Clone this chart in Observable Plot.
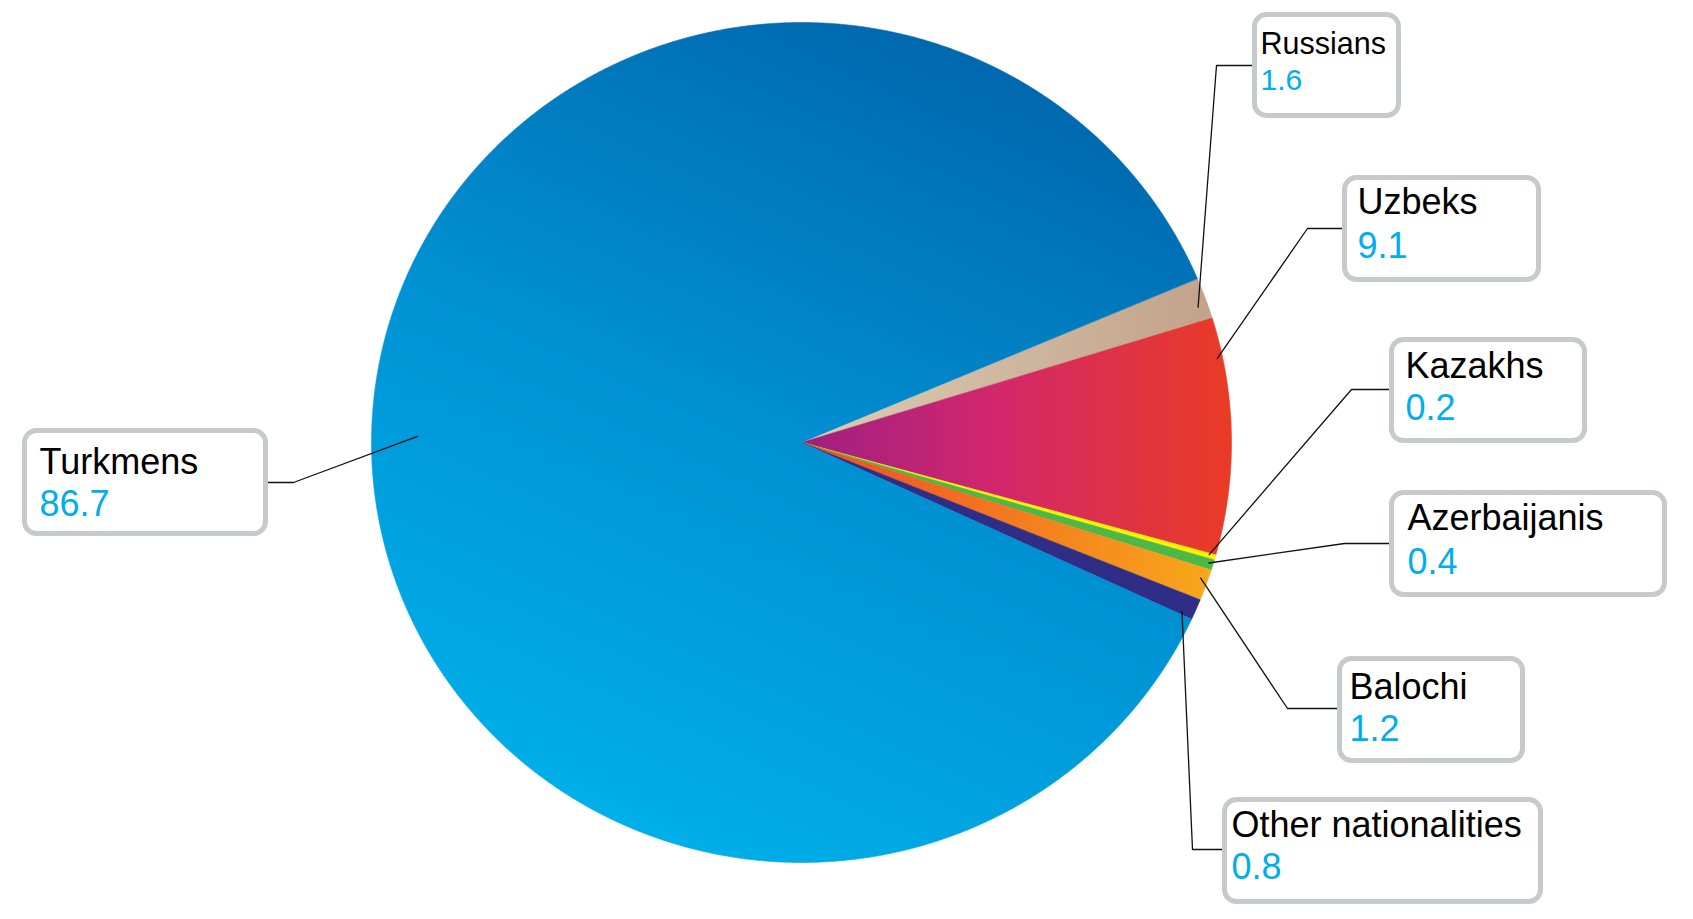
<!DOCTYPE html>
<html>
<head>
<meta charset="utf-8">
<script src="https://cdn.jsdelivr.net/npm/d3@7"></script>
<script src="https://cdn.jsdelivr.net/npm/@observablehq/plot@0.6"></script>
<style>
  html, body { margin: 0; padding: 0; background: #fff; }
  #chart svg { display: block; }
</style>
</head>
<body>
<div id="chart"></div>
<script>
// ---------- DATA ----------
const nationalities = ["Turkmens", "Russians", "Uzbeks", "Kazakhs", "Azerbaijanis", "Balochi", "Other nationalities"];
const shares = [86.7, 1.6, 9.1, 0.2, 0.4, 1.2, 0.8];
const valueLabels = ["86.7", "1.6", "9.1", "0.2", "0.4", "1.2", "0.8"];
// clockwise order of the slices starting from the upper right
const sliceOrder = ["Russians", "Uzbeks", "Kazakhs", "Azerbaijanis", "Balochi", "Other nationalities", "Turkmens"];

// ---------- STYLE / LAYOUT ----------
const W = 1693, H = 919;
const cx = 801, cy = 442, rx = 430, ry = 420, startDeg = 67;
const sliceFills = ["url(#gTurk)", "url(#gRus)", "url(#gUzb)", "#fff200", "#4cb848", "url(#gBal)", "#2f2d86"];
// label boxes (outer left, top, width, height)
const boxLeft = [22, 1252, 1342, 1389, 1389, 1337, 1222];
const boxTop = [428, 12, 175, 337, 490, 656, 797];
const boxWidth = [246, 149, 199, 198, 278, 188, 321];
const boxHeight = [108, 106, 107, 106, 107, 107, 107];
const textPad = [17, 8, 15, 16, 18, 12, 9];
const nameBase = [45, 41, 38, 40, 39, 42, 39];
const valueBase = [87, 77, 82, 82, 83, 84, 81];
const leaderOff = [54, 53, 53, 52, 53, 52, 52];
const nameSize = [36, 30.5, 36, 36, 36, 36, 36];
const valueSize = [36, 30, 36, 36, 36, 36, 36];
const elbowLen = [25, 36, 35, 38, 45, 50, 30];
const anchorFrac = [0.5, 0.65, 0.17, 0.3, 0.42, 0.35, 0.85];
const anchorRad = [0.893, 0.977, 0.987, 0.985, 0.99, 0.983, 0.972];

// ---------- GEOMETRY ----------
const shareOf = Object.fromEntries(nationalities.map((n, i) => [n, shares[i]]));
const a0 = startDeg * Math.PI / 180;
const arcs = d3.pie().sort(null).value(d => d.share)
  .startAngle(a0).endAngle(a0 + 2 * Math.PI)(sliceOrder.map(name => ({name, share: shareOf[name]})));
const arcOf = Object.fromEntries(arcs.map(a => [a.data.name, a]));
const px = (a, r = 1) => cx + rx * r * Math.sin(a);
const py = (a, r = 1) => cy - ry * r * Math.cos(a);

const verts = [];
for (const a of arcs) {
  verts.push({name: a.data.name, x: cx, y: cy});
  const n = Math.max(2, Math.ceil((a.endAngle - a.startAngle) / (0.2 * Math.PI / 180)));
  for (let k = 0; k <= n; k++) {
    const t = a.startAngle + (a.endAngle - a.startAngle) * k / n;
    verts.push({name: a.data.name, x: px(t), y: py(t)});
  }
}

const labels = nationalities.map((name, i) => ({
  name, value: valueLabels[i],
  x1: boxLeft[i] + 2.5, x2: boxLeft[i] + boxWidth[i] - 2.5,
  y1: boxTop[i] + 2.5, y2: boxTop[i] + boxHeight[i] - 2.5,
  tx: boxLeft[i] + textPad[i], ny: boxTop[i] + nameBase[i], vy: boxTop[i] + valueBase[i],
  ns: nameSize[i], vs: valueSize[i]
}));

const leaders = [];
nationalities.forEach((name, i) => {
  const a = arcOf[name];
  const ang = a.startAngle + (a.endAngle - a.startAngle) * anchorFrac[i];
  const onLeft = boxLeft[i] < cx;
  const ex = onLeft ? boxLeft[i] + boxWidth[i] : boxLeft[i];
  const ey = boxTop[i] + leaderOff[i];
  const elx = onLeft ? ex + elbowLen[i] : ex - elbowLen[i];
  leaders.push({name, x: ex, y: ey}, {name, x: elx, y: ey}, {name, x: px(ang, anchorRad[i]), y: py(ang, anchorRad[i])});
});

const chart = Plot.plot({
  width: W, height: H, margin: 0,
  x: {domain: [0, W], range: [0, W], axis: null},
  y: {domain: [0, H], range: [0, H], axis: null},
  color: {type: "ordinal", domain: nationalities, range: sliceFills},
  style: {fontFamily: "'Liberation Sans', Arial, Helvetica, sans-serif", background: "#fff"},
  marks: [
    Plot.line(verts, {x: "x", y: "y", z: "name", fill: "name", stroke: "name", strokeWidth: 0.6, curve: "linear-closed"}),
    Plot.line(leaders, {x: "x", y: "y", z: "name", stroke: "#111", strokeWidth: 1.3}),
    Plot.rect(labels, {x1: "x1", x2: "x2", y1: "y1", y2: "y2", rx: 12, fill: "white", stroke: "#c8c9cb", strokeWidth: 5}),
    Plot.text(labels, {x: "tx", y: "ny", text: "name", fontSize: "ns", textAnchor: "start", lineAnchor: "bottom", fill: "#000"}),
    Plot.text(labels, {x: "tx", y: "vy", text: "value", fontSize: "vs", textAnchor: "start", lineAnchor: "bottom", fill: "#00aeef"})
  ]
});

const defs = d3.select(chart).insert("defs", ":first-child");
function grad(id, x1, y1, x2, y2, stops) {
  const g = defs.append("linearGradient").attr("id", id)
    .attr("x1", x1).attr("y1", y1).attr("x2", x2).attr("y2", y2);
  stops.forEach(([o, c]) => g.append("stop").attr("offset", o).attr("stop-color", c));
}
grad("gTurk", 0.75, 0, 0.3, 1, [[0, "#0064ab"], [0.5, "#0090d2"], [1, "#00b1ea"]]);
grad("gRus", 0, 0, 1, 0, [[0, "#dccdb3"], [1, "#c2a28b"]]);
grad("gUzb", 0, 0, 1, 0, [[0, "#9e1f82"], [0.45, "#d2276c"], [1, "#ea3b25"]]);
grad("gBal", 0, 0, 1, 0, [[0, "#ee4a24"], [1, "#f8a81b"]]);

document.getElementById("chart").appendChild(chart);
</script>
</body>
</html>
